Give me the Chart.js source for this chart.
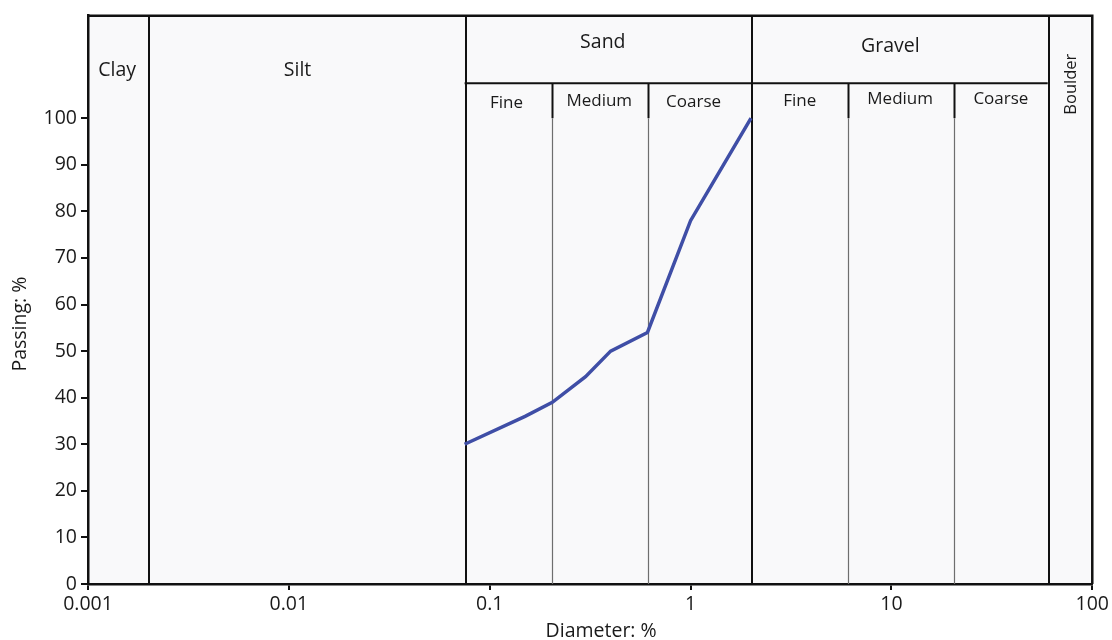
<!DOCTYPE html>
<html><head><meta charset="utf-8">
<script src="https://cdn.jsdelivr.net/npm/chart.js@4.4.0/dist/chart.umd.min.js"></script>
<style>html,body{margin:0;padding:0;background:#fff}#wrap{width:1112px;height:640px}</style>
</head><body><div id="wrap"><canvas id="c" width="1112" height="640"></canvas></div>
<script>
// ---- data ----
const diameters = [0.075, 0.15, 0.205, 0.3, 0.4, 0.61, 1, 2];
const passing   = [30, 36, 39, 44.5, 50, 54, 78, 100];
const xTickValues = [0.001, 0.01, 0.1, 1, 10, 100];
const yTickValues = [0, 10, 20, 30, 40, 50, 60, 70, 80, 90, 100];
const zoneNames = ['Clay', 'Silt', 'Sand', 'Gravel', 'Boulder'];
const zoneEdges = [0.001, 0.002, 0.075, 2, 60, 100];
const subNames = ['Fine', 'Medium', 'Coarse', 'Fine', 'Medium', 'Coarse'];
const subEdges = [0.075, 0.205, 0.615, 2, 6.1, 20.5, 60];
const xTitle = 'Diameter: %';
const yTitle = 'Passing: %';

const FONT = "'Open Sans', 'Noto Sans', sans-serif";
const TXT = '#1a1a1a';

const bgPlugin = {
  id: 'bg',
  beforeDraw(chart) {
    const {ctx, chartArea: a} = chart;
    ctx.save();
    ctx.fillStyle = '#f9f9fa';
    ctx.fillRect(a.left, a.top, a.right - a.left, a.bottom - a.top);
    ctx.restore();
  }
};

const zonesPlugin = {
  id: 'zones',
  beforeDatasetsDraw(chart) {
    const {ctx, chartArea: a, scales: {x, y}} = chart;
    const yRule = y.getPixelForValue(107.5);
    const y100 = y.getPixelForValue(100);
    ctx.save();
    // minor dividers (below header rule)
    subEdges.slice(1, -1).forEach(v => {
      if (zoneEdges.includes(v)) return;
      const px = Math.round(x.getPixelForValue(v)) + 0.5;
      ctx.strokeStyle = '#111'; ctx.lineWidth = 2;
      ctx.beginPath(); ctx.moveTo(px, yRule); ctx.lineTo(px, y100); ctx.stroke();
      ctx.strokeStyle = '#6e6e6e'; ctx.lineWidth = 1.2;
      ctx.beginPath(); ctx.moveTo(px, y100); ctx.lineTo(px, a.bottom); ctx.stroke();
    });
    // header rule
    ctx.strokeStyle = '#111'; ctx.lineWidth = 2;
    ctx.beginPath();
    ctx.moveTo(x.getPixelForValue(subEdges[0]), yRule);
    ctx.lineTo(x.getPixelForValue(subEdges[subEdges.length - 1]), yRule);
    ctx.stroke();
    // major dividers
    zoneEdges.slice(1, -1).forEach(v => {
      const px = Math.round(x.getPixelForValue(v)) + 1;
      ctx.strokeStyle = '#111'; ctx.lineWidth = 2;
      ctx.beginPath(); ctx.moveTo(px, a.top); ctx.lineTo(px, a.bottom); ctx.stroke();
    });
    // labels
    ctx.fillStyle = TXT;
    ctx.textAlign = 'center'; ctx.textBaseline = 'middle';
    const mid = (lo, hi) => (x.getPixelForValue(lo) + x.getPixelForValue(hi)) / 2;
    const zoneY = [110.2, 110.2, 116.2, 115.4];
    const zoneDx = [-1, -9, -5, -9];
    ctx.font = `19.5px ${FONT}`;
    for (let i = 0; i < 4; i++) {
      ctx.fillText(zoneNames[i], mid(zoneEdges[i], zoneEdges[i + 1]) + zoneDx[i], y.getPixelForValue(zoneY[i]));
    }
    ctx.font = `17px ${FONT}`;
    const subY = [103.3, 103.6, 103.5, 103.6, 104.1, 104.1];
    const subDx = [-2, -1, -6, 0, -1, 0];
    for (let i = 0; i < subNames.length; i++) {
      ctx.fillText(subNames[i], mid(subEdges[i], subEdges[i + 1]) + subDx[i], y.getPixelForValue(subY[i]));
    }
    // Boulder rotated
    ctx.save();
    ctx.translate(mid(zoneEdges[4], zoneEdges[5]) + 1, y.getPixelForValue(107.3));
    ctx.rotate(-Math.PI / 2);
    ctx.font = `16.5px ${FONT}`;
    ctx.fillText(zoneNames[4], 0, 0);
    ctx.restore();
    ctx.restore();
  },
  afterDraw(chart) {
    const {ctx, chartArea: a, scales: {y}} = chart;
    ctx.save();
    ctx.strokeStyle = '#111'; ctx.lineWidth = 2.5;
    ctx.beginPath();
    ctx.moveTo(a.left, a.top); ctx.lineTo(a.right, a.top); ctx.lineTo(a.right, a.bottom);
    ctx.stroke();
    // axis titles
    ctx.fillStyle = TXT;
    ctx.textAlign = 'center'; ctx.textBaseline = 'middle';
    ctx.font = `19.5px ${FONT}`;
    ctx.fillText(xTitle, (a.left + a.right) / 2 + 11, 631);
    ctx.save();
    ctx.translate(20, y.getPixelForValue(55.8));
    ctx.rotate(-Math.PI / 2);
    ctx.fillText(yTitle, 0, 0);
    ctx.restore();
    ctx.restore();
  }
};

new Chart(document.getElementById('c'), {
  type: 'scatter',
  data: {
    datasets: [{
      data: diameters.map((d, i) => ({x: d, y: passing[i]})),
      showLine: true,
      borderColor: '#3f4ea6',
      borderWidth: 3.5,
      pointRadius: 0,
      fill: false,
      tension: 0
    }]
  },
  options: {
    responsive: false,
    animation: false,
    layout: {padding: {top: 14, right: 19, left: 0, bottom: 0}},
    plugins: {legend: {display: false}, tooltip: {enabled: false}},
    scales: {
      x: {
        type: 'logarithmic', min: 0.001, max: 100,
        afterBuildTicks(s) { s.ticks = xTickValues.map(v => ({value: v})); },
        afterFit(s) { s.height = 56; },
        ticks: {
          autoSkip: false, maxRotation: 0, padding: 3, color: TXT,
          font: {family: FONT, size: 19.5},
          callback: v => String(Number(v))
        },
        grid: {drawOnChartArea: false, drawTicks: true, tickLength: 6, color: '#111', lineWidth: 2},
        border: {color: '#111', width: 2.5}
      },
      y: {
        min: 0, max: 122,
        afterBuildTicks(s) { s.ticks = yTickValues.map(v => ({value: v})); },
        afterFit(s) { s.width = 88; },
        ticks: {color: TXT, font: {family: FONT, size: 19.5}, padding: 4},
        grid: {drawOnChartArea: false, drawTicks: true, tickLength: 7, color: '#111', lineWidth: 2},
        border: {color: '#111', width: 2.5}
      }
    }
  },
  plugins: [bgPlugin, zonesPlugin]
});
</script></body></html>
